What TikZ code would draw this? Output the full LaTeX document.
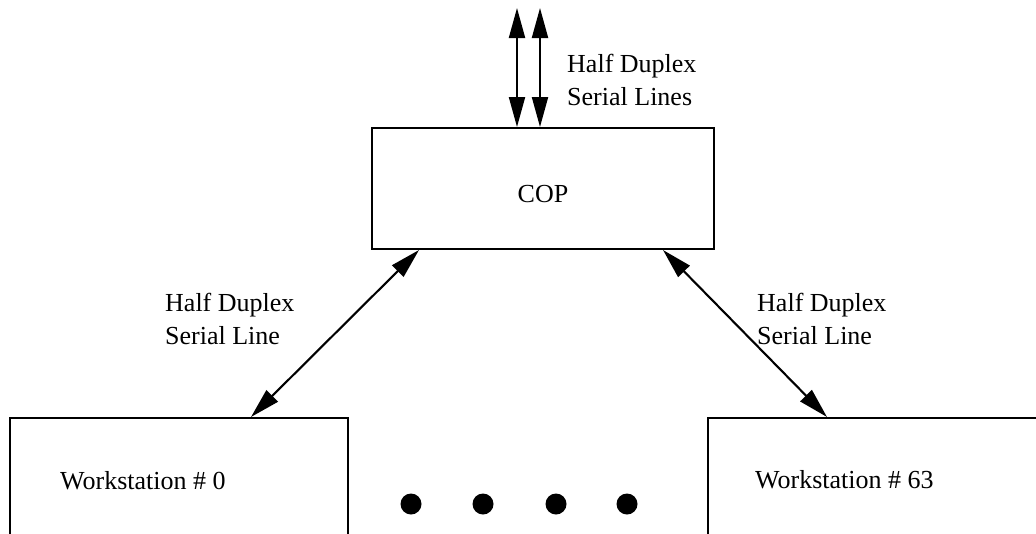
\documentclass[tikz,border=0pt]{standalone}
\usepackage{fontspec}
\setmainfont{Liberation Serif}
\usetikzlibrary{arrows.meta}
\begin{document}
\begin{tikzpicture}[x=1pt, y=-1pt,
  box/.style={draw, rectangle, line width=2pt, inner sep=0pt},
  txt/.style={font=\fontsize{26}{32.5}\selectfont, inner sep=0pt},
  lbl/.style={txt, align=left, anchor=base west},
  link/.style={line width=2.1pt,
    {Triangle[length=30pt,width=16pt]}-{Triangle[length=30pt,width=16pt]}},
  dotmark/.style={circle, fill, inner sep=0pt, minimum size=21pt}]
  \useasboundingbox (0,0) rectangle (1036,533);
  \clip (0,0) rectangle (1036,533);

  % central processor and the two end workstations
  \node[box, minimum width=342pt, minimum height=121pt] (cop) at (543,188.5) {};
  \node[txt] (coptext) at (543,194) {COP};
  \node[box, minimum width=338pt, minimum height=142pt] (ws0) at (179,489) {};
  \node[lbl] (ws0text) at (60,489) {Workstation \# 0};
  \node[box, minimum width=342pt, minimum height=142pt] (ws63) at (879,489) {};
  \node[lbl] (ws63text) at (755,488) {Workstation \# 63};

  % the workstations in between
  \node[dotmark] (d1) at (411,504) {};
  \node[dotmark] (d2) at (483,504) {};
  \node[dotmark] (d3) at (556,504) {};
  \node[dotmark] (d4) at (627,504) {};

  % outgoing lines above the processor
  \coordinate (up1) at (517,8);
  \coordinate (up2) at (540,8);
  \draw[link] (up1) -- (up1 |- cop.north);
  \draw[link] (up2) -- (up2 |- cop.north);
  \node[lbl] (toplbl) at (567,105) {Half Duplex\\Serial Lines};

  % lines to the workstations
  \draw[link] ([xshift=48pt]cop.south west) -- ([xshift=242pt]ws0.north west);
  \draw[link] ([xshift=-52pt]cop.south east) -- ([xshift=120pt]ws63.north west);
  \node[lbl] (leftlbl) at (165,344) {Half Duplex\\Serial Line};
  \node[lbl] (rightlbl) at (757,344) {Half Duplex\\Serial Line};
\end{tikzpicture}
\end{document}
